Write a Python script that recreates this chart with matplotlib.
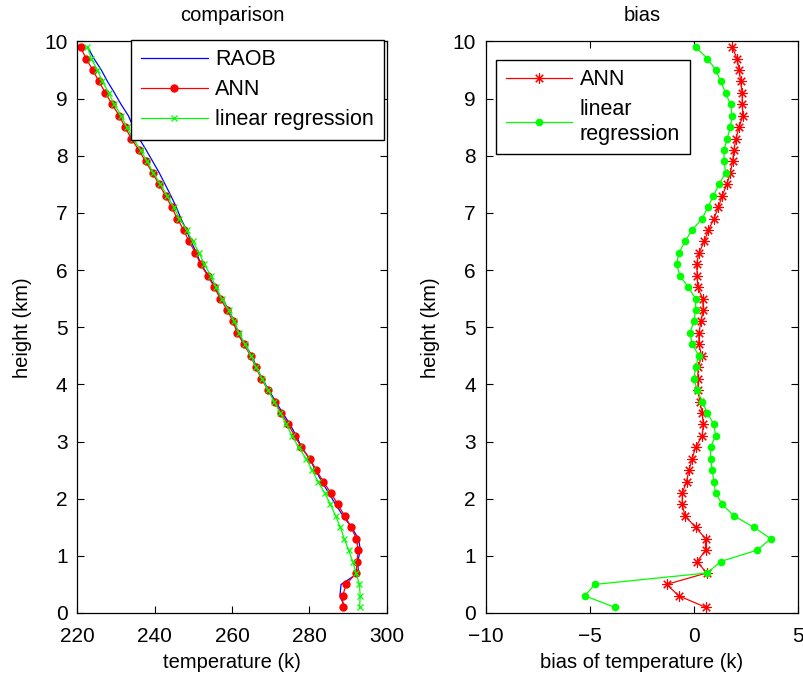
import numpy as np
import matplotlib
matplotlib.use("Agg")
import matplotlib.pyplot as plt

plt.rcParams["font.family"] = ["Liberation Sans", "DejaVu Sans"]
plt.rcParams["font.size"] = 14.5

# retrieval levels (km), every 200 m from 0.1 to 9.9
height_km = [0.1, 0.3, 0.5, 0.7, 0.9, 1.1, 1.3, 1.5, 1.7, 1.9,
             2.1, 2.3, 2.5, 2.7, 2.9, 3.1, 3.3, 3.5, 3.7, 3.9,
             4.1, 4.3, 4.5, 4.7, 4.9, 5.1, 5.3, 5.5, 5.7, 5.9,
             6.1, 6.3, 6.5, 6.7, 6.9, 7.1, 7.3, 7.5, 7.7, 7.9,
             8.1, 8.3, 8.5, 8.7, 8.9, 9.1, 9.3, 9.5, 9.7, 9.9]

# radiosonde temperature profile (K)
raob_temp = [289.2, 287.9, 288.2, 292.7, 292.5, 293.2, 292.7, 290.9, 288.7, 286.8,
             285.0, 283.2, 281.6, 280.0, 278.0, 276.6, 275.0, 273.1, 271.3, 269.5,
             267.8, 266.3, 265.2, 263.3, 261.6, 260.6, 259.2, 257.4, 255.6, 253.9,
             252.0, 250.8, 249.4, 248.2, 246.8, 245.6, 244.2, 242.7, 241.2, 239.5,
             237.8, 236.0, 234.5, 233.2, 231.3, 229.6, 227.8, 226.2, 224.3, 222.7]

# bias = RAOB - retrieved (K)
ann_bias = [0.56, -0.72, -1.31, 0.61, 0.16, 0.56, 0.56, 0.08, -0.43, -0.56,
            -0.56, -0.35, -0.24, -0.08, 0.08, 0.40, 0.45, 0.40, 0.28, 0.21,
            0.18, 0.21, 0.37, 0.24, 0.24, 0.34, 0.45, 0.42, 0.18, 0.16,
            0.13, 0.24, 0.50, 0.70, 0.96, 1.18, 1.36, 1.58, 1.75, 1.86,
            1.92, 2.02, 2.17, 2.35, 2.32, 2.32, 2.24, 2.18, 2.07, 1.84]

lr_bias = [-3.80, -5.24, -4.76, 0.64, 1.28, 3.04, 3.69, 2.88, 1.92, 1.36,
           1.04, 0.96, 0.88, 0.80, 0.80, 1.04, 0.96, 0.64, 0.40, 0.16,
           0.00, 0.08, 0.24, -0.08, -0.19, 0.00, 0.08, 0.08, -0.27, -0.67,
           -0.83, -0.72, -0.43, -0.09, 0.40, 0.67, 0.94, 1.20, 1.53, 1.44,
           1.45, 1.60, 1.75, 1.84, 1.76, 1.52, 1.29, 1.05, 0.65, 0.08]

temp_ticks = [220, 240, 260, 280, 300]
bias_ticks = [-10, -5, 0, 5]
height_ticks = list(range(0, 11))

raob = np.array(raob_temp)
ann_temp = raob - np.array(ann_bias)
lr_temp = raob - np.array(lr_bias)

GREEN = "#00ff00"

fig = plt.figure(figsize=(8.04, 6.79), dpi=100)
ax1 = fig.add_axes([77.3 / 804, 66 / 679, 309.4 / 804, 571.6 / 679])
ax2 = fig.add_axes([485.7 / 804, 66 / 679, 312.3 / 804, 571.6 / 679])

legend_kw = dict(borderaxespad=0, handlelength=3.1, fancybox=False,
                 framealpha=1, edgecolor="k", borderpad=0.45,
                 labelspacing=0.42, handletextpad=0.35, fontsize=15.5)

# left: temperature profiles
ax1.plot(raob, height_km, color="b", lw=0.9, label="RAOB")
ax1.plot(ann_temp, height_km, color="r", lw=0.9, marker="o", ms=5,
         mec="r", mfc="r", label="ANN")
ax1.plot(lr_temp, height_km, color=GREEN, lw=0.9, marker="x", ms=4.5,
         mew=0.9, label="linear regression")
ax1.set_xlim(220, 300)
ax1.set_xticks(temp_ticks)
ax1.set_xlabel("temperature (k)", labelpad=5)
ax1.set_title("comparison", fontsize=14.5, pad=15)
leg1 = ax1.legend(loc="upper right", bbox_to_anchor=(0.99, 1.003), **legend_kw)
leg1.get_frame().set_linewidth(1.0)

# right: bias profiles
ax2.plot(ann_bias, height_km, color="r", lw=0.9, marker=(8, 2, 0), ms=7.5,
         mew=0.8, label="ANN")
ax2.plot(lr_bias, height_km, color=GREEN, lw=0.9, marker="o", ms=4.5,
         mec=GREEN, mfc=GREEN, label="linear\nregression")
ax2.set_xlim(-10, 5)
ax2.set_xticks(bias_ticks)
ax2.set_xlabel("bias of temperature (k)", labelpad=5)
ax2.set_title("bias", fontsize=14.5, pad=15)
leg2 = ax2.legend(loc="upper left", bbox_to_anchor=(0.033, 0.968), **legend_kw)
leg2.get_frame().set_linewidth(1.0)

for ax in (ax1, ax2):
    ax.set_ylim(0, 10)
    ax.set_yticks(height_ticks)
    ax.set_ylabel("height (km)", labelpad=9)
    ax.tick_params(direction="in", top=True, right=True, length=5,
                   width=0.8, labelsize=15)
    ax.tick_params(axis="x", pad=10)
    ax.tick_params(axis="y", pad=7)
    for sp in ax.spines.values():
        sp.set_linewidth(0.9)

fig.savefig("out.png", dpi=100)
